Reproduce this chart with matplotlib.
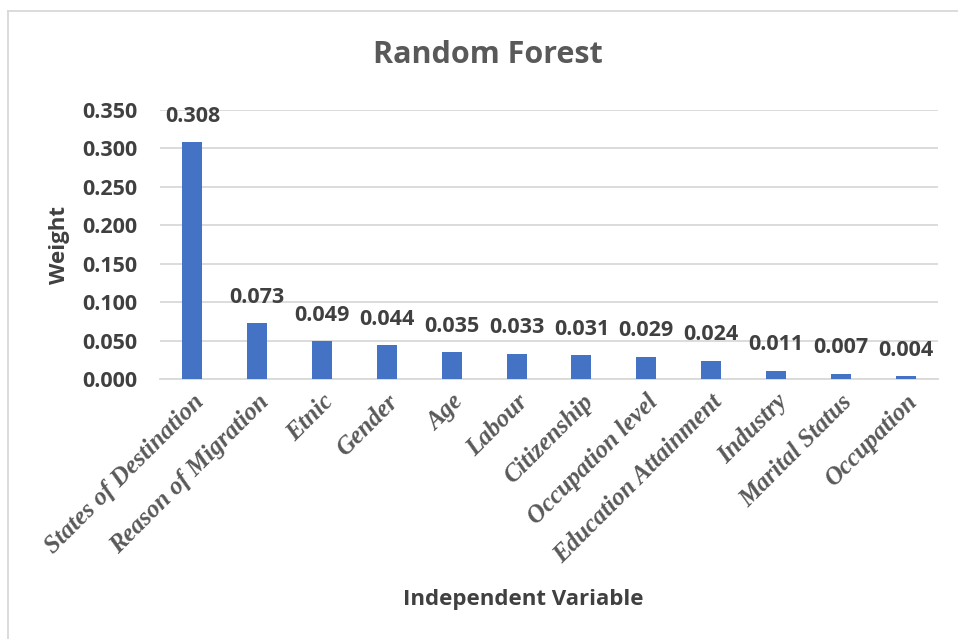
import matplotlib
matplotlib.use("Agg")
import matplotlib.pyplot as plt
from matplotlib.lines import Line2D
from matplotlib import font_manager as fm

categories = ["States of Destination", "Reason of Migration", "Etnic", "Gender", "Age",
              "Labour", "Citizenship", "Occupation level", "Education Attainment",
              "Industry", "Marital Status", "Occupation"]
weights = [0.308, 0.073, 0.049, 0.044, 0.035, 0.033, 0.031, 0.029, 0.024, 0.011, 0.007, 0.004]
yticks = [0.0, 0.05, 0.10, 0.15, 0.20, 0.25, 0.30, 0.35]

W, H = 958, 639
fig = plt.figure(figsize=(W / 100, H / 100), dpi=100)
ax = fig.add_axes([160 / W, 1 - 379 / H, (938 - 160) / W, (379 - 110) / H])

dark = "#404040"
sans = ["Open Sans", "DejaVu Sans"]

# locate a bold-italic serif face
serif_fp = None
for f in fm.fontManager.ttflist:
    if f.name == "Liberation Serif" and f.style == "italic" and f.weight in (700, "bold"):
        serif_fp = fm.FontProperties(fname=f.fname, size=18)
        break
if serif_fp is None:
    serif_fp = fm.FontProperties(family="Liberation Serif", style="italic",
                                 weight="bold", size=18)

x = range(len(categories))
bars = ax.bar(x, weights, width=0.31, color="#4472C4", zorder=3)
ax.set_xlim(-0.5, len(categories) - 0.5)
ax.set_ylim(0, 0.35)
ax.set_yticks(yticks)
ax.set_yticklabels([f"{v:.3f}" for v in yticks], fontsize=15.5, fontweight="bold",
                   color=dark, family=sans)
ax.yaxis.grid(True, color="#D9D9D9", linewidth=1.3, zorder=0)
ax.set_axisbelow(True)
for s in ["top", "right", "left"]:
    ax.spines[s].set_visible(False)
ax.spines["bottom"].set_color("#D9D9D9")
ax.spines["bottom"].set_linewidth(1.3)
ax.tick_params(axis="both", length=0)
ax.tick_params(axis="y", pad=16)

ax.set_xticks(list(x))
ax.set_xticklabels(categories, rotation=45, ha="right", rotation_mode="anchor",
                   fontproperties=serif_fp, color="#595959")
ax.tick_params(axis="x", pad=8)

for b, v in zip(bars, weights):
    ax.annotate(f"{v:.3f}", (b.get_x() + b.get_width() / 2, v), xytext=(0, 11),
                textcoords="offset points", ha="center", va="bottom",
                fontsize=15.5, fontweight="bold", color=dark, family=sans)

fig.text(488 / W, 1 - 55 / H, "Random Forest", ha="center", va="center",
         fontsize=22, fontweight="bold", color="#595959", family=sans)
fig.text(60 / W, 1 - 245 / H, "Weight", ha="center", va="center", rotation=90,
         fontsize=16, fontweight="bold", color=dark, family=sans)
fig.text(523 / W, 1 - 600 / H, "Independent Variable", ha="center", va="center",
         fontsize=16, fontweight="bold", color=dark, family=sans)

fig.add_artist(Line2D([8 / W, 8 / W], [0, 1 - 11 / H], transform=fig.transFigure,
                      color="#D9D9D9", linewidth=1.3))
fig.add_artist(Line2D([8 / W, 1], [1 - 11 / H, 1 - 11 / H], transform=fig.transFigure,
                      color="#D9D9D9", linewidth=1.3))

fig.savefig("out.png", dpi=100)
